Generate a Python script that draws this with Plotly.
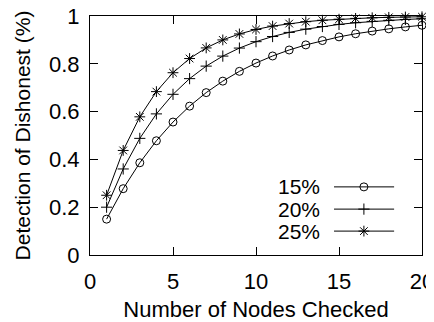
import plotly.graph_objects as go

nodes = list(range(1, 21))
p15 = [0.15, 0.2775, 0.3859, 0.4780, 0.5563, 0.6229, 0.6794, 0.7275, 0.7684, 0.8031,
       0.8327, 0.8578, 0.8791, 0.8972, 0.9126, 0.9257, 0.9369, 0.9463, 0.9544, 0.9612]
p20 = [0.2, 0.36, 0.488, 0.5904, 0.6723, 0.7379, 0.7903, 0.8322, 0.8658, 0.8926,
       0.9141, 0.9313, 0.9450, 0.9560, 0.9648, 0.9719, 0.9775, 0.9820, 0.9856, 0.9885]
p25 = [0.25, 0.4375, 0.5781, 0.6836, 0.7627, 0.8220, 0.8665, 0.8999, 0.9249, 0.9437,
       0.9578, 0.9683, 0.9762, 0.9822, 0.9866, 0.9900, 0.9925, 0.9944, 0.9958, 0.9968]
series_names = ["15%", "20%", "25%"]
x_ticks = [0, 5, 10, 15, 20]
y_ticks = [0, 0.2, 0.4, 0.6, 0.8, 1]
y_tick_labels = ["0", "0.2", "0.4", "0.6", "0.8", "1"]

FONT = "Liberation Sans, Arial, Helvetica, sans-serif"
FS = 22
LFS = 21
symbols = ["circle-open", "cross-thin-open", "asterisk-open"]
sizes = [8, 8, 9]

fig = go.Figure()
for vals, sym, sz, nm in zip([p15, p20, p25], symbols, sizes, series_names):
    fig.add_trace(go.Scatter(
        x=nodes, y=vals, mode="lines+markers", name=nm,
        line=dict(color="black", width=1),
        marker=dict(symbol=sym, size=sz, color="black", line=dict(width=1, color="black")),
        showlegend=False, cliponaxis=False))

# custom legend (text left of sample, gnuplot style)
leg_rows = [0.285, 0.192, 0.100]
for nm, sym, sz, yr in zip(series_names, symbols, sizes, leg_rows):
    fig.add_shape(type="line", xref="paper", yref="paper", x0=0.735, x1=0.916, y0=yr, y1=yr,
                  line=dict(color="black", width=1))
    fig.add_annotation(xref="paper", yref="paper", x=0.695, y=yr, text=nm, showarrow=False,
                       xanchor="right", yanchor="middle", borderpad=0,
                       font=dict(size=LFS, color="black", family=FONT))
    fig.add_trace(go.Scatter(x=[0.825], y=[yr], xaxis="x2", yaxis="y2", mode="markers",
                             marker=dict(symbol=sym, size=sz, color="black", line=dict(width=1, color="black")),
                             showlegend=False, hoverinfo="skip"))

axis_common = dict(showline=True, linecolor="black", linewidth=1, mirror="allticks",
                   ticks="inside", ticklen=8, tickcolor="black", tickwidth=1,
                   showgrid=False, zeroline=False, automargin=False,
                   ticklabeloverflow="allow",
                   tickfont=dict(size=FS, color="black", family=FONT))

# page body adds an 8px margin, so the figure is sized 8px smaller
fig.update_layout(
    width=426, height=314,
    margin=dict(l=82, r=12, t=8, b=67),
    paper_bgcolor="white", plot_bgcolor="white",
    font=dict(family=FONT, size=FS, color="black"),
    xaxis=dict(range=[0, 20], tickvals=x_ticks, ticklabelstandoff=7,
               title=dict(text="Number of Nodes Checked", font=dict(size=FS), standoff=10),
               **axis_common),
    yaxis=dict(range=[0, 1], tickvals=y_ticks, ticktext=y_tick_labels, ticklabelstandoff=5,
               title=dict(text="Detection of Dishonest (%)", font=dict(size=21), standoff=12),
               **axis_common),
    xaxis2=dict(range=[0, 1], overlaying="x", visible=False),
    yaxis2=dict(range=[0, 1], overlaying="y", visible=False),
)

fig.write_html("out.html")
